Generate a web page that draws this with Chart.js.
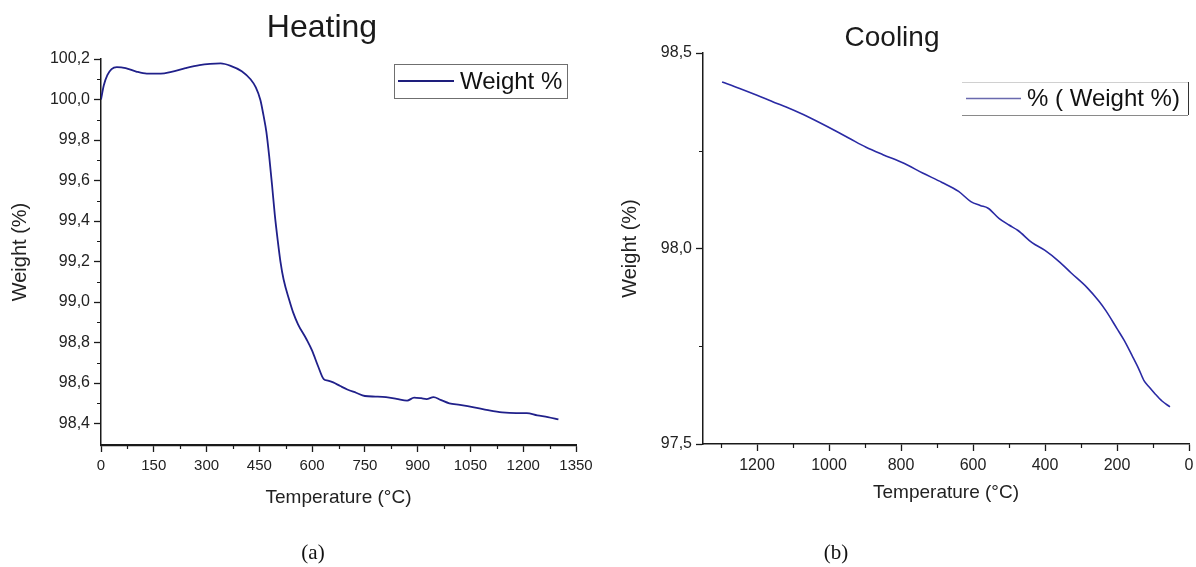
<!DOCTYPE html>
<html>
<head>
<meta charset="utf-8">
<script src="https://cdn.jsdelivr.net/npm/chart.js@4"></script>
<style>
  body { margin: 0; background: #fff; }
  #wrap { position: relative; width: 1196px; height: 567px; overflow: hidden; }
  #heatBox { position: absolute; left: 0; top: 0; width: 600px; height: 567px; }
  #coolBox { position: absolute; left: 600px; top: 0; width: 596px; height: 567px; }
  .caption { position: absolute; top: 540px; font-family: "Liberation Serif", "Times New Roman", serif; font-size: 21px; color: #111; transform: translateX(-50%); }
</style>
</head>
<body>
<div id="wrap">
  <div id="heatBox"><canvas id="heatChart"></canvas></div>
  <div id="coolBox"><canvas id="coolChart"></canvas></div>
  <div class="caption" style="left:313px">(a)</div>
  <div class="caption" style="left:836px">(b)</div>
</div>
<script>
// heating run (a)
const heatTemp = [0, 8, 18, 30, 45, 70, 100, 130, 170, 200, 240, 280, 310, 340, 370, 400, 425, 440, 453, 462, 470, 478, 486, 494, 502, 510, 519, 535, 546, 560, 584, 600, 617, 633, 645, 660, 680, 700, 725, 750, 780, 810, 840, 870, 890, 910, 925, 945, 965, 990, 1020, 1060, 1100, 1140, 1180, 1210, 1240, 1270, 1300];
const heatWeight = [100.00, 100.07, 100.12, 100.150, 100.160, 100.155, 100.138, 100.128, 100.128, 100.137, 100.155, 100.170, 100.176, 100.178, 100.165, 100.140, 100.100, 100.060, 99.998, 99.92, 99.84, 99.72, 99.58, 99.43, 99.308, 99.20, 99.111, 99.01, 98.949, 98.89, 98.816, 98.76, 98.683, 98.619, 98.612, 98.603, 98.585, 98.568, 98.552, 98.536, 98.533, 98.530, 98.522, 98.513, 98.528, 98.525, 98.521, 98.530, 98.517, 98.500, 98.492, 98.480, 98.466, 98.455, 98.451, 98.451, 98.440, 98.432, 98.420];

// cooling run (b)
const coolTemp = [1297, 1250, 1200, 1150, 1119, 1070, 1028, 980, 940, 897, 850, 792, 740, 686, 640, 606, 580, 558, 528, 500, 475, 436, 400, 360, 328, 283, 250, 231, 200, 180, 158, 140, 125, 110, 94, 75, 53];
const coolWeight = [98.426, 98.410, 98.392, 98.373, 98.362, 98.342, 98.323, 98.300, 98.280, 98.259, 98.240, 98.218, 98.193, 98.169, 98.146, 98.120, 98.110, 98.103, 98.077, 98.060, 98.046, 98.015, 97.995, 97.966, 97.938, 97.900, 97.865, 97.841, 97.795, 97.765, 97.726, 97.693, 97.662, 97.645, 97.628, 97.610, 97.595];

// ticks
const heatXTicks = [0, 150, 300, 450, 600, 750, 900, 1050, 1200, 1350];
const heatXMinor = [75, 225, 375, 525, 675, 825, 975, 1125, 1275];
const heatYTicks = [98.4, 98.6, 98.8, 99.0, 99.2, 99.4, 99.6, 99.8, 100.0, 100.2];
const heatYMinor = [98.5, 98.7, 98.9, 99.1, 99.3, 99.5, 99.7, 99.9, 100.1];
const coolXTicks = [0, 200, 400, 600, 800, 1000, 1200];
const coolXMinor = [100, 300, 500, 700, 900, 1100, 1300];
const coolYTicks = [97.5, 98.0, 98.5];
const coolYMinor = [97.75, 98.25];

const FONT = '"Liberation Sans", Arial, Helvetica, sans-serif';
const INK = '#1a1a1a';

function commaNum(v) {
  return Number(v).toFixed(1).replace('.', ',');
}

function toPoints(xs, ys) {
  return xs.map((x, i) => ({ x: x, y: ys[i] }));
}

// title, legend box and minor ticks
const decorations = {
  id: 'decorations',
  afterDraw(chart, args, o) {
    const ctx = chart.ctx;
    const area = chart.chartArea;
    const xs = chart.scales.x;
    const ys = chart.scales.y;
    ctx.save();

    // minor ticks
    ctx.strokeStyle = INK;
    ctx.lineWidth = 1.2;
    ctx.beginPath();
    o.minorX.forEach(v => {
      const px = Math.round(xs.getPixelForValue(v)) + 0.5;
      ctx.moveTo(px, area.bottom);
      ctx.lineTo(px, area.bottom + 4);
    });
    o.minorY.forEach(v => {
      const py = Math.round(ys.getPixelForValue(v)) + 0.5;
      ctx.moveTo(area.left - 4, py);
      ctx.lineTo(area.left, py);
    });
    ctx.stroke();

    // title
    ctx.fillStyle = INK;
    ctx.font = o.titleSize + 'px ' + FONT;
    ctx.textAlign = 'center';
    ctx.textBaseline = 'middle';
    ctx.fillText(o.title, o.titleX, o.titleY);

    // legend
    const lg = o.legend;
    ctx.lineWidth = 1;
    if (lg.full) {
      ctx.strokeStyle = '#6f6f6f';
      ctx.strokeRect(lg.x + 0.5, lg.y + 0.5, lg.w, lg.h);
    } else {
      ctx.strokeStyle = '#d0d0d0';
      ctx.beginPath();
      ctx.moveTo(lg.x, lg.y + 0.5); ctx.lineTo(lg.x + lg.w, lg.y + 0.5);
      ctx.stroke();
      ctx.strokeStyle = '#8a8a8a';
      ctx.beginPath();
      ctx.moveTo(lg.x, lg.y + lg.h + 0.5); ctx.lineTo(lg.x + lg.w, lg.y + lg.h + 0.5);
      ctx.stroke();
      ctx.strokeStyle = '#333';
      ctx.beginPath();
      ctx.moveTo(lg.x + lg.w + 0.5, lg.y); ctx.lineTo(lg.x + lg.w + 0.5, lg.y + lg.h);
      ctx.stroke();
    }
    const midY = lg.y + lg.h / 2;
    ctx.strokeStyle = lg.lineColor;
    ctx.lineWidth = lg.lineWidth;
    ctx.beginPath();
    ctx.moveTo(lg.x + 4, midY);
    ctx.lineTo(lg.x + 4 + lg.lineLen, midY);
    ctx.stroke();
    ctx.fillStyle = '#111';
    ctx.font = lg.size + 'px ' + FONT;
    ctx.textAlign = 'left';
    ctx.fillText(chart.data.datasets[0].label, lg.x + 10 + lg.lineLen, midY + 1);
    ctx.restore();
  }
};

function axisOptions(cfg) {
  return {
    type: 'linear',
    min: cfg.min,
    max: cfg.max,
    reverse: !!cfg.reverse,
    afterFit: s => {
      if (cfg.width) s.width = cfg.width;
      if (cfg.height) s.height = cfg.height;
    },
    afterBuildTicks: s => {
      s.ticks = cfg.ticks.map(v => ({ value: v }));
    },
    grid: {
      display: true,
      drawOnChartArea: false,
      drawTicks: true,
      tickLength: 7,
      tickColor: INK,
      tickWidth: 1.3
    },
    border: { display: true, color: INK, width: cfg.borderWidth || 1.5 },
    ticks: {
      color: '#222',
      font: { family: FONT, size: cfg.tickSize },
      padding: cfg.tickPad,
      maxRotation: 0,
      autoSkip: false,
      callback: cfg.format
    },
    title: {
      display: true,
      text: cfg.title,
      color: '#222',
      font: { family: FONT, size: cfg.titleSize },
      padding: cfg.titlePad
    }
  };
}

new Chart(document.getElementById('heatChart'), {
  type: 'line',
  data: {
    datasets: [{
      label: 'Weight %',
      data: toPoints(heatTemp, heatWeight),
      borderColor: '#20208a',
      borderWidth: 1.8,
      pointRadius: 0,
      cubicInterpolationMode: 'monotone',
      fill: false
    }]
  },
  options: {
    responsive: true,
    maintainAspectRatio: false,
    animation: false,
    layout: { padding: { top: 59, left: 0, right: 24, bottom: 58 } },
    plugins: {
      legend: { display: false },
      tooltip: { enabled: false },
      decorations: {
        title: 'Heating', titleSize: 32, titleX: 322, titleY: 28,
        minorX: heatXMinor, minorY: heatYMinor,
        legend: { x: 394, y: 64, w: 173, h: 34, full: true, lineColor: '#1e1e7c', lineWidth: 2, lineLen: 56, size: 24 }
      }
    },
    scales: {
      x: axisOptions({
        min: 0, max: 1350, ticks: heatXTicks, height: 64, tickSize: 15, tickPad: 5, borderWidth: 2.2,
        title: 'Temperature (°C)', titleSize: 19, titlePad: { top: 0, bottom: 0 },
        format: v => String(v)
      }),
      y: axisOptions({
        min: 98.294, max: 100.2, ticks: heatYTicks, width: 101, tickSize: 16, tickPad: 4,
        title: 'Weight (%)', titleSize: 20, titlePad: { top: 8, bottom: 0 },
        format: v => commaNum(v)
      })
    }
  },
  plugins: [decorations]
});

new Chart(document.getElementById('coolChart'), {
  type: 'line',
  data: {
    datasets: [{
      label: '% ( Weight %)',
      data: toPoints(coolTemp, coolWeight),
      borderColor: '#2a2aa4',
      borderWidth: 1.6,
      pointRadius: 0,
      cubicInterpolationMode: 'monotone',
      fill: false
    }]
  },
  options: {
    responsive: true,
    maintainAspectRatio: false,
    animation: false,
    layout: { padding: { top: 53, left: 0, right: 7, bottom: 63 } },
    plugins: {
      legend: { display: false },
      tooltip: { enabled: false },
      decorations: {
        title: 'Cooling', titleSize: 28, titleX: 292, titleY: 38,
        minorX: coolXMinor, minorY: coolYMinor,
        legend: { x: 362, y: 82, w: 226, h: 33, full: false, lineColor: '#6a6aae', lineWidth: 1.5, lineLen: 55, size: 24 }
      }
    },
    scales: {
      x: axisOptions({
        min: 0, max: 1350, reverse: true, ticks: coolXTicks, height: 60, tickSize: 16, tickPad: 5,
        title: 'Temperature (°C)', titleSize: 19, titlePad: { top: 0, bottom: 0 },
        format: v => String(v)
      }),
      y: axisOptions({
        min: 97.5, max: 98.5, ticks: coolYTicks, width: 103, tickSize: 16, tickPad: 4,
        title: 'Weight (%)', titleSize: 20, titlePad: { top: 18, bottom: 0 },
        format: v => commaNum(v)
      })
    }
  },
  plugins: [decorations]
});
</script>
</body>
</html>
